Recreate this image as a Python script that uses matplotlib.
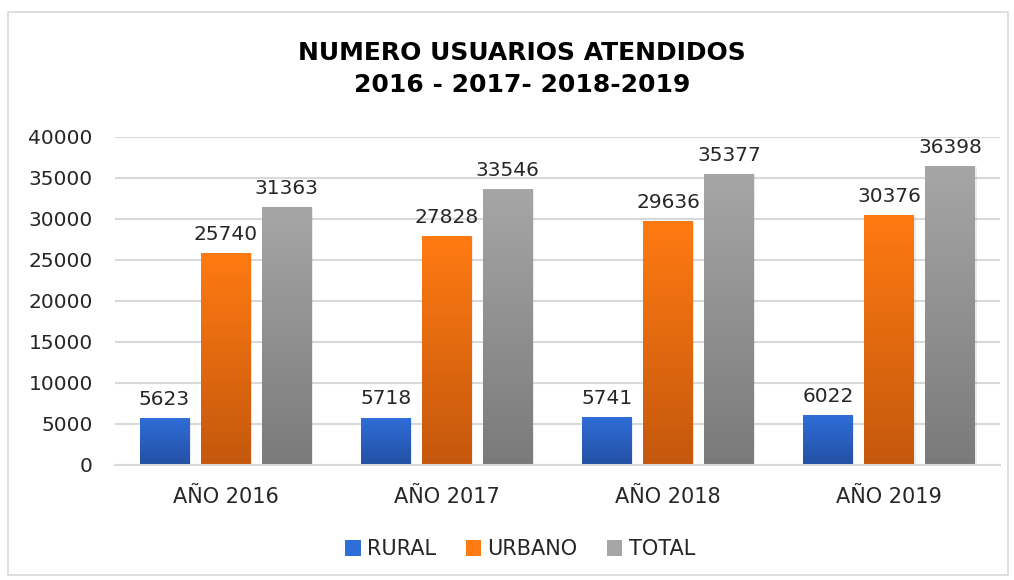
import matplotlib.pyplot as plt
import numpy as np
from matplotlib.colors import LinearSegmentedColormap
from matplotlib.patches import Rectangle, Patch

years = ['AÑO 2016', 'AÑO 2017', 'AÑO 2018', 'AÑO 2019']
rural = [5623, 5718, 5741, 6022]
urbano = [25740, 27828, 29636, 30376]
total = [31363, 33546, 35377, 36398]
series_names = ['RURAL', 'URBANO', 'TOTAL']

# top colour, bottom colour of each bar's gradient
grad = [('#2F6DD8', '#2350A3'), ('#FF7A12', '#C5580D'), ('#A6A6A6', '#7A7A7A')]

plt.rcParams['font.family'] = 'DejaVu Sans'
fig = plt.figure(figsize=(10.14, 5.8), dpi=100)
ax = fig.add_axes([0.1134, 0.1983, 0.8726, 0.5655])

# chart border
fig.patches.append(Rectangle((0.008, 0.008), 0.986, 0.972, transform=fig.transFigure,
                             fill=False, edgecolor='#D9D9D9', linewidth=1.2))

x = np.arange(len(years))
step = 0.276
width = 0.226

for i, (vals, name) in enumerate(zip([rural, urbano, total], series_names)):
    pos = x + (i - 1) * step
    bars = ax.bar(pos, vals, width, color=grad[i][0], label=name, zorder=2)
    cmap = LinearSegmentedColormap.from_list(name, [grad[i][1], grad[i][0]])
    for b, v in zip(bars, vals):
        bx = b.get_x()
        # soft shadow
        ax.add_patch(Rectangle((bx + 0.006, -150), b.get_width(), v + 150,
                               color='#000000', alpha=0.08, zorder=1.5, linewidth=0))
        ax.imshow(np.linspace(0, 1, 256).reshape(-1, 1), cmap=cmap, origin='lower',
                  extent=[bx, bx + b.get_width(), 0, v], aspect='auto', zorder=2.5)
        ax.text(b.get_x() + b.get_width() / 2, v + 1200, str(v), ha='center', va='bottom',
                fontsize=14.5, color='#262626')

ax.set_xlim(-0.5, len(years) - 0.5)
ax.set_ylim(0, 40000)
ax.set_yticks(range(0, 40001, 5000))
ax.set_xticks(x)
ax.set_xticklabels(years)
ax.tick_params(axis='y', labelsize=14.5, length=0, pad=16, labelcolor='#262626')
ax.tick_params(axis='x', labelsize=15, length=0, pad=16, labelcolor='#262626')
ax.grid(axis='y', color='#D9D9D9', linewidth=1.5, zorder=0)
ax.set_axisbelow(True)
for s in ['top', 'right', 'left']:
    ax.spines[s].set_visible(False)
ax.spines['bottom'].set_color('#D9D9D9')
ax.spines['bottom'].set_linewidth(1.5)

fig.text(0.515, 0.881, 'NUMERO USUARIOS ATENDIDOS\n2016 - 2017- 2018-2019', ha='center',
         va='center', fontsize=18, fontweight='bold', linespacing=1.45, color='#000000')

handles = [Patch(facecolor=grad[i][0], label=series_names[i]) for i in range(3)]
fig.legend(handles=handles, loc='center', bbox_to_anchor=(0.513, 0.053), ncol=3,
           frameon=False, fontsize=15, handlelength=0.75, handleheight=0.75,
           handletextpad=0.3, columnspacing=1.4, labelcolor='#262626')

fig.savefig('out.png', dpi=100)
